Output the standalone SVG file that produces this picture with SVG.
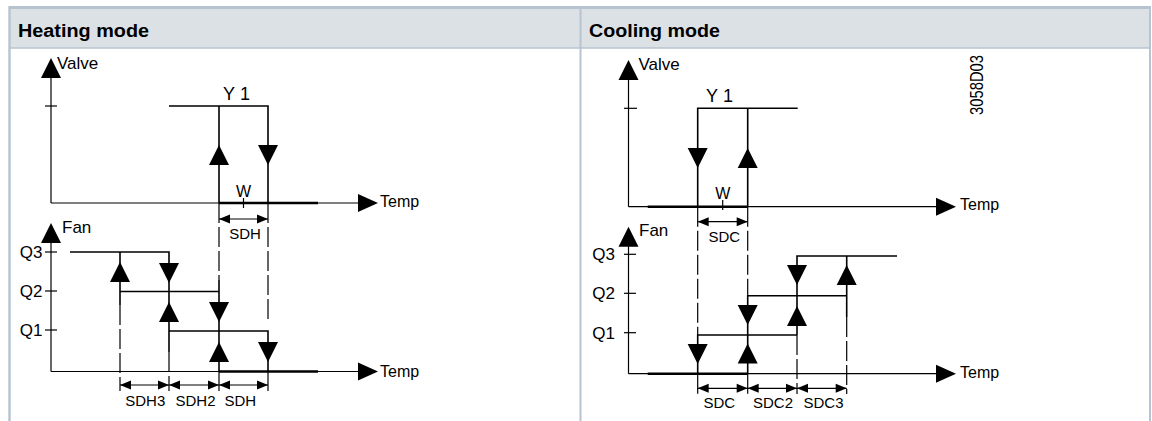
<svg xmlns="http://www.w3.org/2000/svg" xmlns:xlink="http://www.w3.org/1999/xlink" width="1152" height="421" viewBox="0 0 1152 421">
<style>
.hdr{fill:#dce1e6}
.brd{stroke:#b7c3cf;fill:none}
.ttl{font-family:"Liberation Sans",Arial,sans-serif;font-size:18px;font-weight:bold;fill:#000}
.lbl{font-family:"Liberation Sans",Arial,sans-serif;font-size:16px;fill:#000}
.big{font-family:"Liberation Sans",Arial,sans-serif;font-size:17px;fill:#000}
.y1{font-family:"Liberation Sans",Arial,sans-serif;font-size:18px;fill:#000}
.sm{font-family:"Liberation Sans",Arial,sans-serif;font-size:15px;fill:#000}
.ax{stroke:#000;stroke-width:1.2;fill:none}
.st{stroke:#000;stroke-width:1.6;fill:none}
.thk{stroke:#000;stroke-width:2.6;fill:none}
.ds{stroke:#000;stroke-width:1.2;fill:none;stroke-dasharray:20 4}
.dm{stroke:#000;stroke-width:1.2;fill:none}
.ah{fill:#000}
</style>
<defs>
<path id="up" d="M0,0 L10,20 L-10,20 Z"/>
<path id="dn" d="M-10,0 L10,0 L0,20 Z"/>
<path id="rt" d="M0,-9 L20,0 L0,9 Z"/>
<path id="dl" d="M0,0 L11,-4.5 L11,4.5 Z"/>
<path id="dr" d="M0,0 L-11,-4.5 L-11,4.5 Z"/>
</defs>
<rect width="1152" height="421" fill="#fff"/>
<g id="frame">
<rect class="hdr" x="10" y="8" width="1140" height="40"/>
<line class="brd" x1="9" y1="7.5" x2="1150" y2="7.5" stroke-width="3"/>
<line class="brd" x1="9" y1="48" x2="1150" y2="48" stroke-width="1.5"/>
<line class="brd" x1="9.5" y1="6" x2="9.5" y2="421" stroke-width="2.4"/>
<line class="brd" x1="580.5" y1="6" x2="580.5" y2="421" stroke-width="2"/>
<line class="brd" x1="1150" y1="6" x2="1150" y2="421" stroke-width="2"/>
<text class="ttl" x="18" y="36.5" textLength="131" lengthAdjust="spacingAndGlyphs">Heating mode</text>
<text class="ttl" x="589" y="36.5" textLength="131" lengthAdjust="spacingAndGlyphs">Cooling mode</text>
</g>
<g id="heating">
<g id="heating-valve">
<line class="ax" x1="51" y1="70" x2="51" y2="203"/>
<use href="#up" class="ah" x="51" y="58"/>
<text class="big" x="57" y="69">Valve</text>
<line class="ax" x1="45" y1="106" x2="57" y2="106"/>
<line class="ax" x1="51" y1="203" x2="360" y2="203"/>
<use href="#rt" class="ah" x="358" y="203"/>
<text class="lbl" x="380" y="207">Temp</text>
<line class="thk" x1="219" y1="203" x2="318" y2="203"/>
<text class="y1" x="223" y="100" textLength="27" lengthAdjust="spacing">Y1</text>
<path class="st" d="M169,106 H268 V203 M219,106 V203"/>
<use href="#up" class="ah" x="219" y="145"/>
<use href="#dn" class="ah" x="268" y="145"/>
<text class="lbl" x="243.5" y="197" text-anchor="middle">W</text>
<line class="ax" x1="243.5" y1="198" x2="243.5" y2="208"/>
<line class="dm" x1="219" y1="219" x2="268" y2="219"/>
<use href="#dl" class="ah" x="219" y="219"/>
<use href="#dr" class="ah" x="268" y="219"/>
<text class="sm" x="245" y="239" text-anchor="middle">SDH</text>
</g>
<g id="heating-fan">
<line class="ax" x1="51" y1="236" x2="51" y2="371.5"/>
<use href="#up" class="ah" x="51" y="223"/>
<text class="big" x="62" y="233">Fan</text>
<line class="ax" x1="45" y1="252" x2="57" y2="252"/>
<line class="ax" x1="45" y1="291" x2="57" y2="291"/>
<line class="ax" x1="45" y1="330" x2="57" y2="330"/>
<text class="big" x="42.5" y="258" text-anchor="end">Q3</text>
<text class="big" x="42.5" y="297" text-anchor="end">Q2</text>
<text class="big" x="42.5" y="336" text-anchor="end">Q1</text>
<line class="ax" x1="51" y1="371.5" x2="360" y2="371.5"/>
<use href="#rt" class="ah" x="358" y="371.5"/>
<text class="lbl" x="380" y="377">Temp</text>
<line class="thk" x1="219" y1="371.5" x2="318" y2="371.5"/>
<path class="st" d="M70,252 H169 V352 M120,252 V305 M120,291.5 H219 M169,331 H268 V371.5 M219,280 V371.5"/>
<use href="#up" class="ah" x="120" y="262"/>
<use href="#dn" class="ah" x="169" y="263"/>
<use href="#up" class="ah" x="169" y="302"/>
<use href="#dn" class="ah" x="219" y="302"/>
<use href="#up" class="ah" x="219" y="342"/>
<use href="#dn" class="ah" x="268" y="342"/>
<line class="dm" x1="120" y1="385" x2="268" y2="385"/>
<use href="#dl" class="ah" x="120" y="385"/>
<use href="#dr" class="ah" x="169" y="385"/>
<use href="#dl" class="ah" x="169" y="385"/>
<use href="#dr" class="ah" x="219" y="385"/>
<use href="#dl" class="ah" x="219" y="385"/>
<use href="#dr" class="ah" x="268" y="385"/>
<text class="sm" x="145.3" y="406" text-anchor="middle">SDH3</text>
<text class="sm" x="195.5" y="406" text-anchor="middle">SDH2</text>
<text class="sm" x="240.3" y="406" text-anchor="middle">SDH</text>
</g>
<g id="heating-connectors">
<path class="ds" d="M219,203 V280 M268,203 V320 M120,305 V391 M169,352 V391 M219,371.5 V391 M268,371.5 V391"/>
</g>
</g>
<g id="cooling">
<g id="cooling-valve">
<line class="ax" x1="628.5" y1="72" x2="628.5" y2="206.7"/>
<use href="#up" class="ah" x="628.5" y="60"/>
<text class="big" x="638.5" y="70">Valve</text>
<line class="ax" x1="624" y1="108.3" x2="637" y2="108.3"/>
<line class="ax" x1="628.5" y1="206.7" x2="938" y2="206.7"/>
<use href="#rt" class="ah" x="936" y="206.7"/>
<text class="lbl" x="960" y="210">Temp</text>
<line class="thk" x1="647.7" y1="206.7" x2="747.7" y2="206.7"/>
<text class="y1" x="706" y="102" textLength="27" lengthAdjust="spacing">Y1</text>
<path class="st" d="M797.7,108.3 H697.7 V206.7 M747.7,108.3 V206.7"/>
<use href="#dn" class="ah" x="697.7" y="148"/>
<use href="#up" class="ah" x="747.7" y="148"/>
<text class="lbl" x="722.7" y="199" text-anchor="middle">W</text>
<line class="ax" x1="722.7" y1="200" x2="722.7" y2="210"/>
<line class="dm" x1="697.7" y1="221.7" x2="747.7" y2="221.7"/>
<use href="#dl" class="ah" x="697.7" y="221.7"/>
<use href="#dr" class="ah" x="747.7" y="221.7"/>
<text class="sm" x="724.3" y="241.7" text-anchor="middle">SDC</text>
</g>
<g id="cooling-fan">
<line class="ax" x1="628.5" y1="240" x2="628.5" y2="373.7"/>
<use href="#up" class="ah" x="628.5" y="226.7"/>
<text class="big" x="639" y="236">Fan</text>
<line class="ax" x1="624" y1="254.3" x2="636" y2="254.3"/>
<line class="ax" x1="624" y1="293.3" x2="636" y2="293.3"/>
<line class="ax" x1="624" y1="332.7" x2="636" y2="332.7"/>
<text class="big" x="615" y="260" text-anchor="end">Q3</text>
<text class="big" x="615" y="299" text-anchor="end">Q2</text>
<text class="big" x="615" y="338.5" text-anchor="end">Q1</text>
<line class="ax" x1="628.5" y1="373.7" x2="938" y2="373.7"/>
<use href="#rt" class="ah" x="936" y="373.7"/>
<text class="lbl" x="960" y="377.5">Temp</text>
<line class="thk" x1="647.7" y1="373.7" x2="747.7" y2="373.7"/>
<path class="st" d="M897,256 H797 V335 M846.7,256 V317 M846.7,295.7 H747.7 V373.7 M797,335 H697.7 V373.7"/>
<use href="#dn" class="ah" x="697.7" y="344"/>
<use href="#dn" class="ah" x="747.7" y="305"/>
<use href="#up" class="ah" x="747.7" y="343.5"/>
<use href="#dn" class="ah" x="797" y="265"/>
<use href="#up" class="ah" x="797" y="306"/>
<use href="#up" class="ah" x="846.7" y="265"/>
<line class="dm" x1="697.7" y1="388.3" x2="846.7" y2="388.3"/>
<use href="#dl" class="ah" x="697.7" y="388.3"/>
<use href="#dr" class="ah" x="747.7" y="388.3"/>
<use href="#dl" class="ah" x="747.7" y="388.3"/>
<use href="#dr" class="ah" x="797" y="388.3"/>
<use href="#dl" class="ah" x="797" y="388.3"/>
<use href="#dr" class="ah" x="846.7" y="388.3"/>
<text class="sm" x="719.3" y="408.3" text-anchor="middle">SDC</text>
<text class="sm" x="773" y="408.3" text-anchor="middle">SDC2</text>
<text class="sm" x="823.5" y="408.3" text-anchor="middle">SDC3</text>
</g>
<g id="cooling-connectors">
<path class="ds" d="M697.7,206.7 V335 M747.7,206.7 V295.7 M797,335 V394 M846.7,317 V394 M697.7,373.7 V394 M747.7,373.7 V394"/>
</g>
<text class="lbl" transform="translate(983,115) rotate(-90)" style="font-size:19px" textLength="60" lengthAdjust="spacingAndGlyphs">3058D03</text>
</g>
</svg>
